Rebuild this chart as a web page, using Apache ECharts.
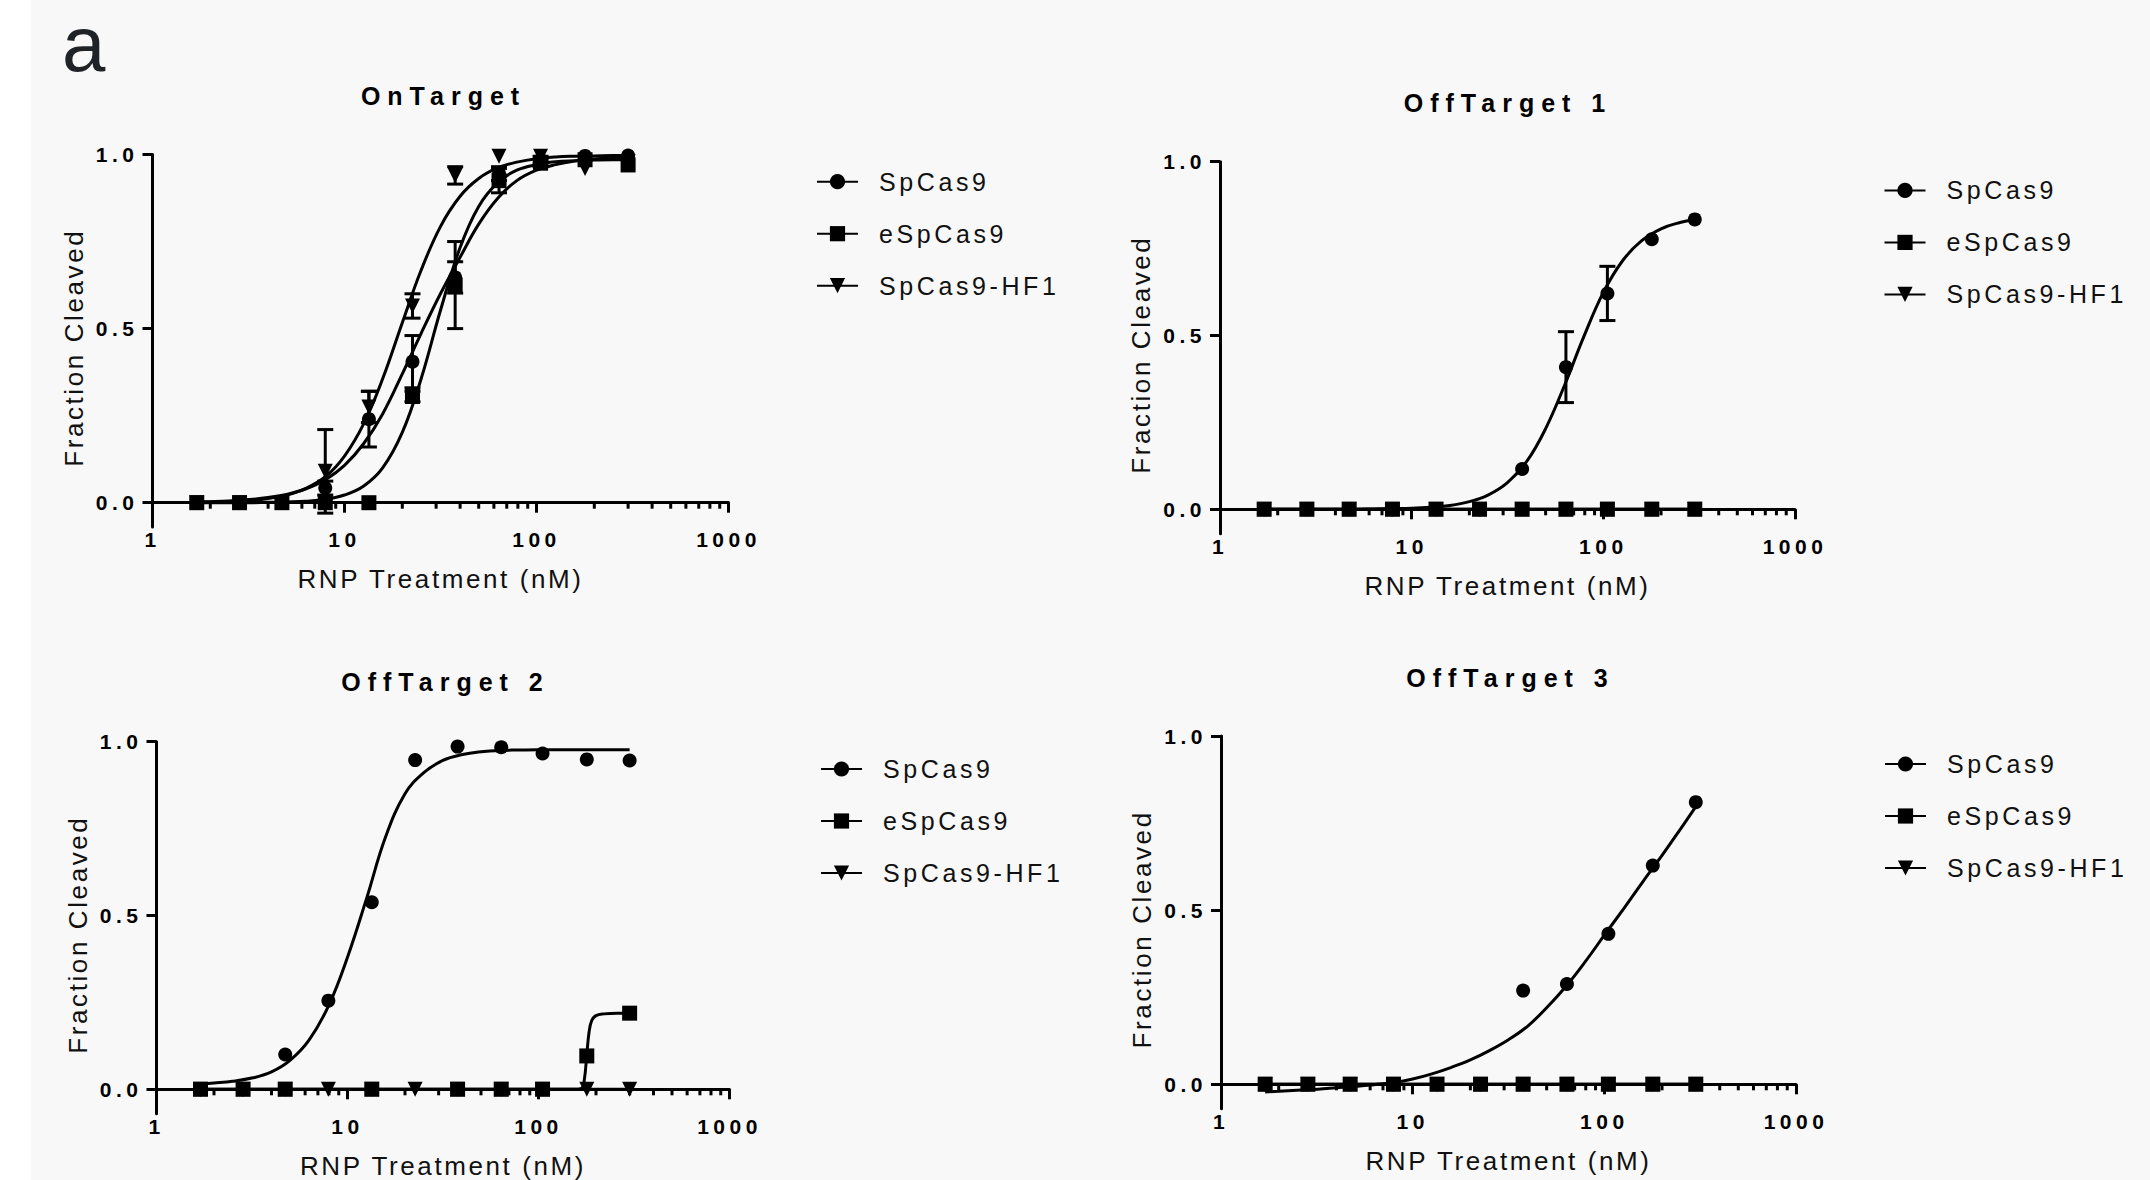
<!DOCTYPE html>
<html><head><meta charset="utf-8">
<script src="https://cdn.jsdelivr.net/npm/echarts@6/dist/echarts.min.js"></script>
<style>
html,body{margin:0;padding:0;background:#fff;}
#chart{width:2150px;height:1180px;}
#chart text{letter-spacing:3.6px;}
#chart text[style*="21px"]{letter-spacing:4.5px;}
#chart text[style*="26px"]{letter-spacing:2.6px;}
#chart text[style*="25px"][style*="bold"]{letter-spacing:7px;}
#chart text[style*="78px"]{letter-spacing:0;}
</style></head><body><div id="chart"></div>
<script>
// ---------------- DATA ----------------
const conc = [1.7, 2.84, 4.72, 7.94, 13.4, 22.6, 37.7, 63.8, 105, 179, 300];
const seriesNames = ['SpCas9', 'eSpCas9', 'SpCas9-HF1'];
const panelTitles = ['OnTarget', 'OffTarget 1', 'OffTarget 2', 'OffTarget 3'];
const xAxisTitle = 'RNP Treatment (nM)';
const yAxisTitle = 'Fraction Cleaved';
const panelLetter = 'a';
const yTickValues = [0, 0.5, 1];
const minorTickValues = [2, 3, 4, 5, 6, 7, 8, 9, 20, 30, 40, 50, 60, 70, 80, 90, 200, 300, 400, 500, 600, 700, 800, 900];
const zeros = [0, 0, 0, 0, 0, 0, 0, 0, 0, 0, 0];
const fitX = [1.7, 2, 2.5, 3.2, 4, 5, 6.3, 8, 10, 12.6, 15.8, 20, 25, 31.6, 40, 50, 63, 79, 100, 126, 158, 200, 251, 300];

// OnTarget
const onTargetSp    = [0, 0, 0, 0.042, 0.24, 0.405, 0.647, 0.945, 0.985, 0.996, 0.997];
const onTargetSpErr = [0, 0, 0, 0.02, 0.08, 0.075, 0.045, 0.02, 0.01, 0, 0];
const onTargetE     = [0, 0, 0, 0, 0, 0.305, 0.625, 0.925, 0.975, 0.985, 0.97];
const onTargetEErr  = [0, 0, 0, 0, 0, 0.015, 0.125, 0.035, 0.01, 0, 0];
const onTargetHf    = [0, 0, 0, 0.09, 0.275, 0.565, 0.94, 0.995, 0.995, 0.96, 0.98];
const onTargetHfErr = [0, 0, 0, 0.12, 0.045, 0.035, 0.025, 0, 0, 0, 0];
const onTargetFitSp = [0.002, 0.003, 0.005, 0.009, 0.015, 0.024, 0.04, 0.067, 0.107, 0.17, 0.255, 0.37, 0.485, 0.6, 0.705, 0.8, 0.875, 0.925, 0.955, 0.971, 0.981, 0.987, 0.99, 0.992];
const onTargetFitE  = [0, 0, 0, 0, 0.001, 0.002, 0.004, 0.01, 0.022, 0.048, 0.1, 0.202, 0.354, 0.552, 0.733, 0.851, 0.92, 0.955, 0.971, 0.979, 0.982, 0.984, 0.985, 0.985];
const onTargetFitHf = [0.001, 0.002, 0.003, 0.006, 0.012, 0.022, 0.041, 0.076, 0.134, 0.227, 0.356, 0.517, 0.666, 0.793, 0.88, 0.931, 0.962, 0.978, 0.988, 0.993, 0.995, 0.996, 0.997, 0.997];

// OffTarget 1
const off1Sp    = [0, 0, 0, 0, 0, 0, 0.116, 0.409, 0.621, 0.777, 0.834];
const off1SpErr = [0, 0, 0, 0, 0, 0, 0, 0.102, 0.078, 0, 0];
const off1E     = [0, 0, 0, 0, 0, 0, 0, 0, 0, 0, 0];
const off1Hf    = [0, 0, 0, 0, 0, 0, 0, 0, 0, 0, 0];
const off1FitSp = [0, 0, 0, 0, 0, 0, 0.001, 0.002, 0.003, 0.006, 0.011, 0.022, 0.041, 0.077, 0.139, 0.232, 0.359, 0.496, 0.624, 0.715, 0.772, 0.807, 0.825, 0.833];

// OffTarget 2
const off2Sp    = [0, 0, 0.10, 0.255, 0.538, 0.947, 0.986, 0.984, 0.966, 0.949, 0.946];
const off2E     = [0, 0, 0, null, 0, null, 0, 0, 0, 0.096, 0.219];
const off2Hf    = [0, 0, 0, 0, 0, 0, 0, 0, 0, 0, 0];
const off2FitSp = [0.015, 0.018, 0.023, 0.033, 0.05, 0.083, 0.142, 0.243, 0.38, 0.55, 0.725, 0.85, 0.91, 0.946, 0.963, 0.971, 0.975, 0.976, 0.977, 0.977, 0.977, 0.977, 0.977, 0.977];
const off2FitEX = [1.7, 2.84, 4.72, 7.94, 13.4, 22.6, 37.7, 63.8, 105, 150, 168, 174, 179, 184, 190, 200, 220, 260, 300];
const off2FitE  = [0, 0, 0, 0, 0, 0, 0, 0, 0, 0, 0.003, 0.03, 0.1, 0.165, 0.198, 0.212, 0.217, 0.219, 0.219];

// OffTarget 3
const off3Sp    = [0, 0, 0, 0, 0, 0, 0.269, 0.288, 0.432, 0.628, 0.81];
const off3E     = [0, 0, 0, 0, 0, 0, 0, 0, 0, 0, 0];
const off3Hf    = [0, 0, 0, 0, 0, 0, 0, 0, 0, 0, 0];
const off3FitSp = [-0.022, -0.02, -0.017, -0.014, -0.01, -0.006, -0.001, 0.005, 0.015, 0.03, 0.048, 0.07, 0.096, 0.128, 0.168, 0.22, 0.281, 0.35, 0.428, 0.504, 0.58, 0.657, 0.735, 0.797];

// ---------------- PANEL ASSEMBLY ----------------
const panels = [
  { pts: [onTargetSp, onTargetE, onTargetHf], errs: [onTargetSpErr, onTargetEErr, onTargetHfErr],
    fits: [[fitX, onTargetFitSp], [fitX, onTargetFitE], [fitX, onTargetFitHf]] },
  { pts: [off1Sp, off1E, off1Hf], errs: [off1SpErr, zeros, zeros],
    fits: [[fitX, off1FitSp], [conc, zeros], [conc, zeros]] },
  { pts: [off2Sp, off2E, off2Hf], errs: [zeros, zeros, zeros],
    fits: [[fitX, off2FitSp], [off2FitEX, off2FitE], [conc, zeros]] },
  { pts: [off3Sp, off3E, off3Hf], errs: [zeros, zeros, zeros],
    fits: [[fitX, off3FitSp], [conc, zeros], [conc, zeros]] }
];

// layout (pixels)
const layout = [
  { left: 152.5, top: 154.5, width: 576, unit: 348.2, legLeft: 816, legTop: 169.2, titleX: 443.5, titleTop: 83.5 },
  { left: 1220,  top: 161.7, width: 575, unit: 347.6, legLeft: 1883.5, legTop: 177.9, titleX: 1508, titleTop: 90.5 },
  { left: 156.5, top: 741.7, width: 573, unit: 347.6, legLeft: 820, legTop: 756.5, titleX: 445.5, titleTop: 669 },
  { left: 1221,  top: 736,   width: 575, unit: 348.3, legLeft: 1884, legTop: 751.5, titleX: 1510.5, titleTop: 665.5 }
];

const FONT = 'Liberation Sans, Arial, Helvetica, sans-serif';
const Y_MIN = -0.07, Y_MAX = 1;
const symbols = ['circle', 'rect', 'triangle'];
const symSizes = [14, 15, 15];
const symRot = [0, 0, 180];

function zip(xs, ys) { const out = []; for (let i = 0; i < xs.length; i++) { if (ys[i] !== null && ys[i] !== undefined) out.push([xs[i], ys[i]]); } return out; }

function errorBarItem(params, api) {
  const x = api.value(0), y = api.value(1), e = api.value(2);
  const hi = api.coord([x, y + e]);
  const lo = api.coord([x, y - e]);
  const w = 8;
  const st = { stroke: '#000', lineWidth: 3, fill: null };
  return { type: 'group', children: [
    { type: 'line', shape: { x1: hi[0], y1: hi[1], x2: lo[0], y2: lo[1] }, style: st },
    { type: 'line', shape: { x1: hi[0] - w, y1: hi[1], x2: hi[0] + w, y2: hi[1] }, style: st },
    { type: 'line', shape: { x1: lo[0] - w, y1: lo[1], x2: lo[0] + w, y2: lo[1] }, style: st }
  ]};
}
function minorTickItem(params, api) {
  const p = api.coord([api.value(0), 0]);
  return { type: 'line', shape: { x1: p[0], y1: p[1], x2: p[0], y2: p[1] + 6 }, style: { stroke: '#000', lineWidth: 3 } };
}

const grids = [], xAxes = [], yAxes = [], series = [], legends = [], titles = [];
panels.forEach((p, i) => {
  const L = layout[i];
  grids.push({ left: L.left, top: L.top, width: L.width, height: L.unit * (Y_MAX - Y_MIN), containLabel: false });
  xAxes.push({
    type: 'log', logBase: 10, gridIndex: i, min: 1, max: 1000,
    axisLine: { show: true, onZero: true, lineStyle: { color: '#000', width: 3 } },
    axisTick: { show: true, length: 10, lineStyle: { color: '#000', width: 3 } },
    axisLabel: { formatter: v => String(Math.round(v)), fontSize: 21, fontWeight: 'bold', color: '#000', fontFamily: FONT, margin: 2 },
    minorTick: { show: false }, splitLine: { show: false },
    name: xAxisTitle, nameLocation: 'middle', nameGap: 39,
    nameTextStyle: { fontSize: 26, color: '#111', fontFamily: FONT }
  });
  yAxes.push({
    type: 'value', gridIndex: i, min: Y_MIN, max: Y_MAX,
    axisLine: { show: true, onZero: false, lineStyle: { color: '#000', width: 3 } },
    axisTick: { show: true, customValues: yTickValues, length: 10, lineStyle: { color: '#000', width: 3 } },
    axisLabel: { customValues: yTickValues, formatter: v => Number(v).toFixed(1), fontSize: 21, fontWeight: 'bold', color: '#000', fontFamily: FONT, margin: 14 },
    splitLine: { show: false },
    name: yAxisTitle, nameLocation: 'middle', nameGap: 66,
    nameTextStyle: { fontSize: 26, color: '#111', fontFamily: FONT, padding: [0, 14, 0, 0] }
  });
  for (let k = 0; k < 3; k++) {
    series.push({
      type: 'line', name: seriesNames[k], xAxisIndex: i, yAxisIndex: i,
      data: zip(p.fits[k][0], p.fits[k][1]),
      smooth: 0.4, showSymbol: false,
      symbol: symbols[k], symbolSize: symSizes[k], symbolRotate: symRot[k],
      lineStyle: { color: '#000', width: 3 }, itemStyle: { color: '#000' },
      z: 2, silent: true, animation: false
    });
  }
  for (let k = 0; k < 3; k++) {
    const ed = [];
    conc.forEach((c, j) => { if (p.errs[k][j] > 0 && p.pts[k][j] !== null) ed.push([c, p.pts[k][j], p.errs[k][j]]); });
    if (ed.length) series.push({
      type: 'custom', name: 'err' + i + k, xAxisIndex: i, yAxisIndex: i, data: ed,
      renderItem: errorBarItem, encode: { x: 0, y: 1 }, z: 3, silent: true, animation: false, clip: false
    });
  }
  [0, 2, 1].forEach(k => {
    series.push({
      type: 'scatter', name: 'pts' + i + k, xAxisIndex: i, yAxisIndex: i,
      data: zip(conc, p.pts[k]),
      symbol: symbols[k], symbolSize: symSizes[k], symbolRotate: symRot[k],
      itemStyle: { color: '#000', opacity: 1 }, z: 4, silent: true, animation: false
    });
  });
  series.push({
    type: 'custom', name: 'minor' + i, xAxisIndex: i, yAxisIndex: i,
    data: minorTickValues.map(v => [v, 0]), renderItem: minorTickItem,
    encode: { x: 0, y: 1 }, z: 3, silent: true, animation: false, clip: false
  });
  legends.push({
    orient: 'vertical', left: L.legLeft, top: L.legTop, padding: 0,
    itemWidth: 41, itemHeight: 19, itemGap: 27, selectedMode: false,
    data: seriesNames,
    textStyle: { fontSize: 25, color: '#111', fontFamily: FONT, lineHeight: 25, padding: [0, 0, 0, 16] }
  });
  titles.push({
    text: panelTitles[i], left: L.titleX, top: L.titleTop, padding: 0,
    textAlign: 'center', textVerticalAlign: 'top',
    textStyle: { fontSize: 25, fontWeight: 'bold', color: '#000', fontFamily: FONT, lineHeight: 25 }
  });
});

const chart = echarts.init(document.getElementById('chart'), null, { renderer: 'svg', width: 2150, height: 1180 });
chart.setOption({
  backgroundColor: '#ffffff',
  animation: false,
  title: titles,
  legend: legends,
  grid: grids,
  xAxis: xAxes,
  yAxis: yAxes,
  series: series,
  graphic: [
    { type: 'rect', left: 31, top: 0, shape: { width: 2119, height: 1180 }, style: { fill: '#f8f8f8' }, z: -10, silent: true },
    { type: 'text', left: 62, top: 5, style: { text: panelLetter, fontSize: 78, fontFamily: FONT, fill: '#1f2226' }, z: 10, silent: true }
  ]
});
</script></body></html>
